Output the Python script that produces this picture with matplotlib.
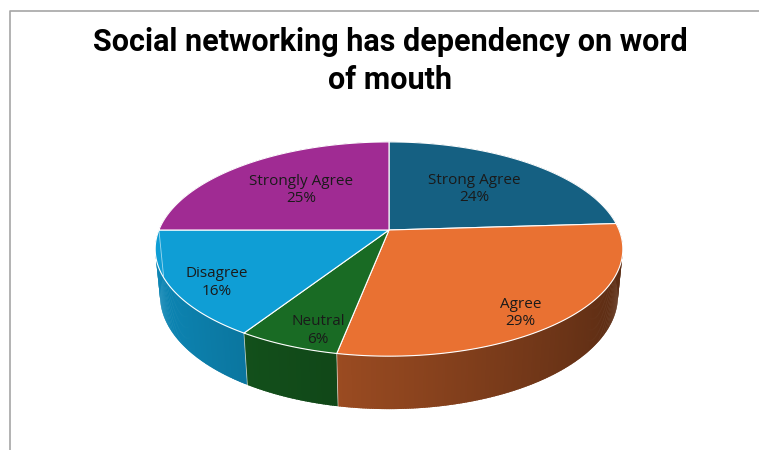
import numpy as np
import matplotlib.pyplot as plt
from matplotlib.patches import Polygon
from matplotlib.colors import to_rgb

title = "Social networking has dependency on word\nof mouth"
labels = ["Strong Agree", "Agree", "Neutral", "Disagree", "Strongly Agree"]
values = [24, 29, 6, 16, 25]
colors = ["#156082", "#E97132", "#196B24", "#0F9ED5", "#A02B93"]

# perspective set-up for the tilted disc, in pixels
cx, cy = 389, 230
focal = 1155
dist = 5.02
elev = np.radians(26.8)
thick = 0.23


def project(phi, r=1.0, z=0.0):
    # phi is measured clockwise from 12 o'clock (the far side of the disc)
    X = r * np.sin(phi)
    Y = r * np.cos(phi)
    v = Y * np.sin(elev) - z * np.cos(elev)
    D = dist + Y * np.cos(elev) + z * np.sin(elev)
    return cx + focal * X / D, cy - focal * v / D


fig = plt.figure(figsize=(7.59, 4.5), dpi=100)
ax = fig.add_axes([0, 0, 1, 1])
ax.set_xlim(0, 759)
ax.set_ylim(450, 0)
ax.axis('off')

# chart area border (runs off the right and bottom of the image)
ax.plot([10, 10, 760], [451, 11, 11], color='#a6a6a6', lw=1.2)

total = sum(values)
bounds = np.concatenate([[0], np.cumsum(values)]) / total * 2 * np.pi

# side wall, drawn in thin overlapping strips from back to front with shading
step = np.radians(0.5)
strips = []
for i in range(len(values)):
    a0, a1 = bounds[i], bounds[i + 1]
    n = max(2, int((a1 - a0) / step))
    phis = np.linspace(a0, a1, n + 1)
    base = np.array(to_rgb(colors[i]))
    for p0, p1 in zip(phis[:-1], phis[1:]):
        mid = (p0 + p1) / 2
        shade = 0.62 - 0.24 * np.sin(mid)
        q1 = min(p1 + step * 0.8, a1)
        pts = [project(p0), project(q1), project(q1, z=thick), project(p0, z=thick)]
        strips.append((np.cos(mid), pts, np.clip(base * shade, 0, 1)))
strips.sort(key=lambda s: -s[0])
for _, pts, col in strips:
    ax.add_patch(Polygon(pts, closed=True, facecolor=col, lw=0))

# light seams on the front wall where slices meet
for b in bounds[:-1]:
    if np.cos(b) < 0:
        x0, y0 = project(b)
        x1, y1 = project(b, z=thick)
        ax.plot([x0, x1], [y0, y1], color='white', lw=0.6, alpha=0.6)

# top face
for i in range(len(values)):
    a0, a1 = bounds[i], bounds[i + 1]
    phis = np.linspace(a0, a1, 200)
    pts = [project(0, r=0)] + [project(p) for p in phis]
    ax.add_patch(Polygon(pts, closed=True, facecolor=colors[i],
                         edgecolor='white', lw=0.8))

# data labels
label_r = [0.58, 0.78, 0.74, 0.8, 0.58]
for i in range(len(values)):
    mid = (bounds[i] + bounds[i + 1]) / 2
    drop = 0.4 * thick * max(0, -np.cos(mid))
    x, y = project(mid, r=label_r[i], z=drop)
    ax.text(x, y, f"{labels[i]}\n{values[i]}%", ha='center', va='center',
            fontsize=11, color='#1a1a1a', family='Open Sans', linespacing=1.2)

ax.text(390, 61, title, ha='center', va='center', fontsize=22,
        fontweight='bold', family='Roboto', linespacing=1.3)

fig.savefig('out.png', dpi=100)
